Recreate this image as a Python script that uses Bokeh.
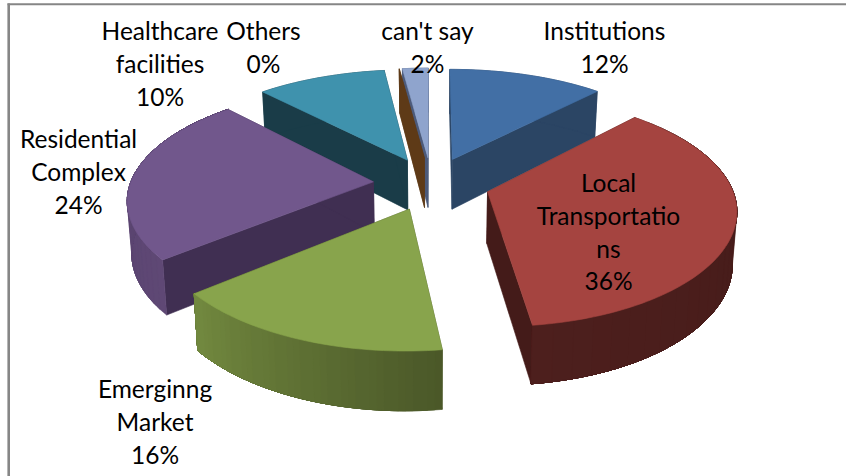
import math
from bokeh.plotting import figure
from bokeh.core.properties import value
from bokeh.embed import file_html
from bokeh.resources import INLINE

# --- data -----------------------------------------------------------
categories = ["Institutions", "Local Transportations", "Emerginng Market",
              "Residential Complex", "Healthcare facilities", "Others", "can't say"]
shares = [12, 36, 16, 24, 10, 0, 2]

# --- styles ---------------------------------------------------------
top_colors = ["#426FA5", "#A54440", "#88A44C", "#71578C", "#3F92AD", "#5E3A17", "#8FA4CD"]
cut_colors = ["#2B4564", "#441B19", "#4A5728", "#402F52", "#1A3C48", "#5E3A17", "#4C5A7A"]
wall_start = ["#2B4564", "#421A18", "#4A5728", "#5F4875", "#1A3C48", "#5E3A17", "#4C5A7A"]
wall_end = ["#2B4564", "#4D1F1D", "#72893F", "#54406A", "#1A3C48", "#5E3A17", "#4C5A7A"]
draw_order = [6, 5, 4, 0, 3, 1, 2]

label_lines = [
    ["Institutions", "12%"],
    ["Local", "Transportatio", "ns", "36%"],
    ["Emerginng", "Market", "16%"],
    ["Residential", "Complex", "24%"],
    ["Healthcare", "facilities", "10%"],
    ["Others", "0%"],
    ["can't say", "2%"],
]
label_x = [604, 608, 154.5, 78, 159.5, 263, 427]
label_top = [30, 182, 388, 138, 30, 30, 30]
line_gap = 32.8

# --- projection (pixels of the page) ---------------------------------
W, H = 846, 476
CX, CY = 431, 183
A, B = 243, 111
P, Q = 0.14, 0.155
DEPTH, DR = 51, 0.12
EXPLODE = 0.24
BOTTOM_SHRINK = 0.985


def project(gx, gy, lower=False):
    sx = A * gx / (1 + P * gy)
    sy = -B * gy / (1 + Q * gy)
    if lower:
        return CX + sx * BOTTOM_SHRINK, CY + sy + DEPTH / (1 + DR * gy)
    return CX + sx, CY + sy


def mix(c1, c2, t):
    a = [int(c1[i:i + 2], 16) for i in (1, 3, 5)]
    b = [int(c2[i:i + 2], 16) for i in (1, 3, 5)]
    return "#%02X%02X%02X" % tuple(round(u + (v - u) * t) for u, v in zip(a, b))


p = figure(width=W, height=H, x_range=(0, W), y_range=(H, 0), toolbar_location=None,
           output_backend="svg", min_border=0, outline_line_color=None,
           background_fill_color="white", border_fill_color="white")
p.xaxis.visible = False
p.yaxis.visible = False
p.grid.visible = False

total = sum(shares)
starts = []
acc = 0
for s in shares:
    starts.append(acc / total * 2 * math.pi)
    acc += s


def poly(pts, color):
    p.patch([q[0] for q in pts], [q[1] for q in pts], fill_color=color,
            line_color=color, line_width=0.6)


for i in draw_order:
    a0 = starts[i]
    a1 = a0 + shares[i] / total * 2 * math.pi
    mid = (a0 + a1) / 2
    ox, oy = EXPLODE * math.sin(mid), EXPLODE * math.cos(mid)
    n = max(2, int((a1 - a0) * 40))
    arc = [a0 + (a1 - a0) * k / n for k in range(n + 1)]
    rim = [(ox + math.sin(t), oy + math.cos(t)) for t in arc]
    apex = (ox, oy)

    # cut faces
    for end in (rim[0], rim[-1]):
        poly([project(*apex), project(*end), project(*end, True), project(*apex, True)], cut_colors[i])

    # outer wall, shaded along the arc: each step paints the rest of the wall
    steps = 30 if wall_start[i] != wall_end[i] else 1
    for s in range(steps):
        k0 = s * n // steps
        part = rim[k0:]
        pts = [project(*g) for g in part] + [project(*g, True) for g in reversed(part)]
        poly(pts, mix(wall_start[i], wall_end[i], (s + 0.5) / steps))

    # top face
    if shares[i] > 0:
        poly([project(*apex)] + [project(*g) for g in rim], top_colors[i])

# frame
p.segment([8.2], [3], [8.2], [H], line_color="#868686", line_width=2.6)
p.segment([7], [3.8], [W], [3.8], line_color="#868686", line_width=2)

# labels
xs, ys, ts = [], [], []
for lines, x, y in zip(label_lines, label_x, label_top):
    for j, t in enumerate(lines):
        xs.append(x)
        ys.append(y + j * line_gap)
        ts.append(t)
p.text(xs, ys, text=ts, text_font=value("Lato"), text_font_size="24.5px", text_color="#000000",
       text_align="center", text_baseline="middle")

open("out.html", "w").write(file_html(p, INLINE))
